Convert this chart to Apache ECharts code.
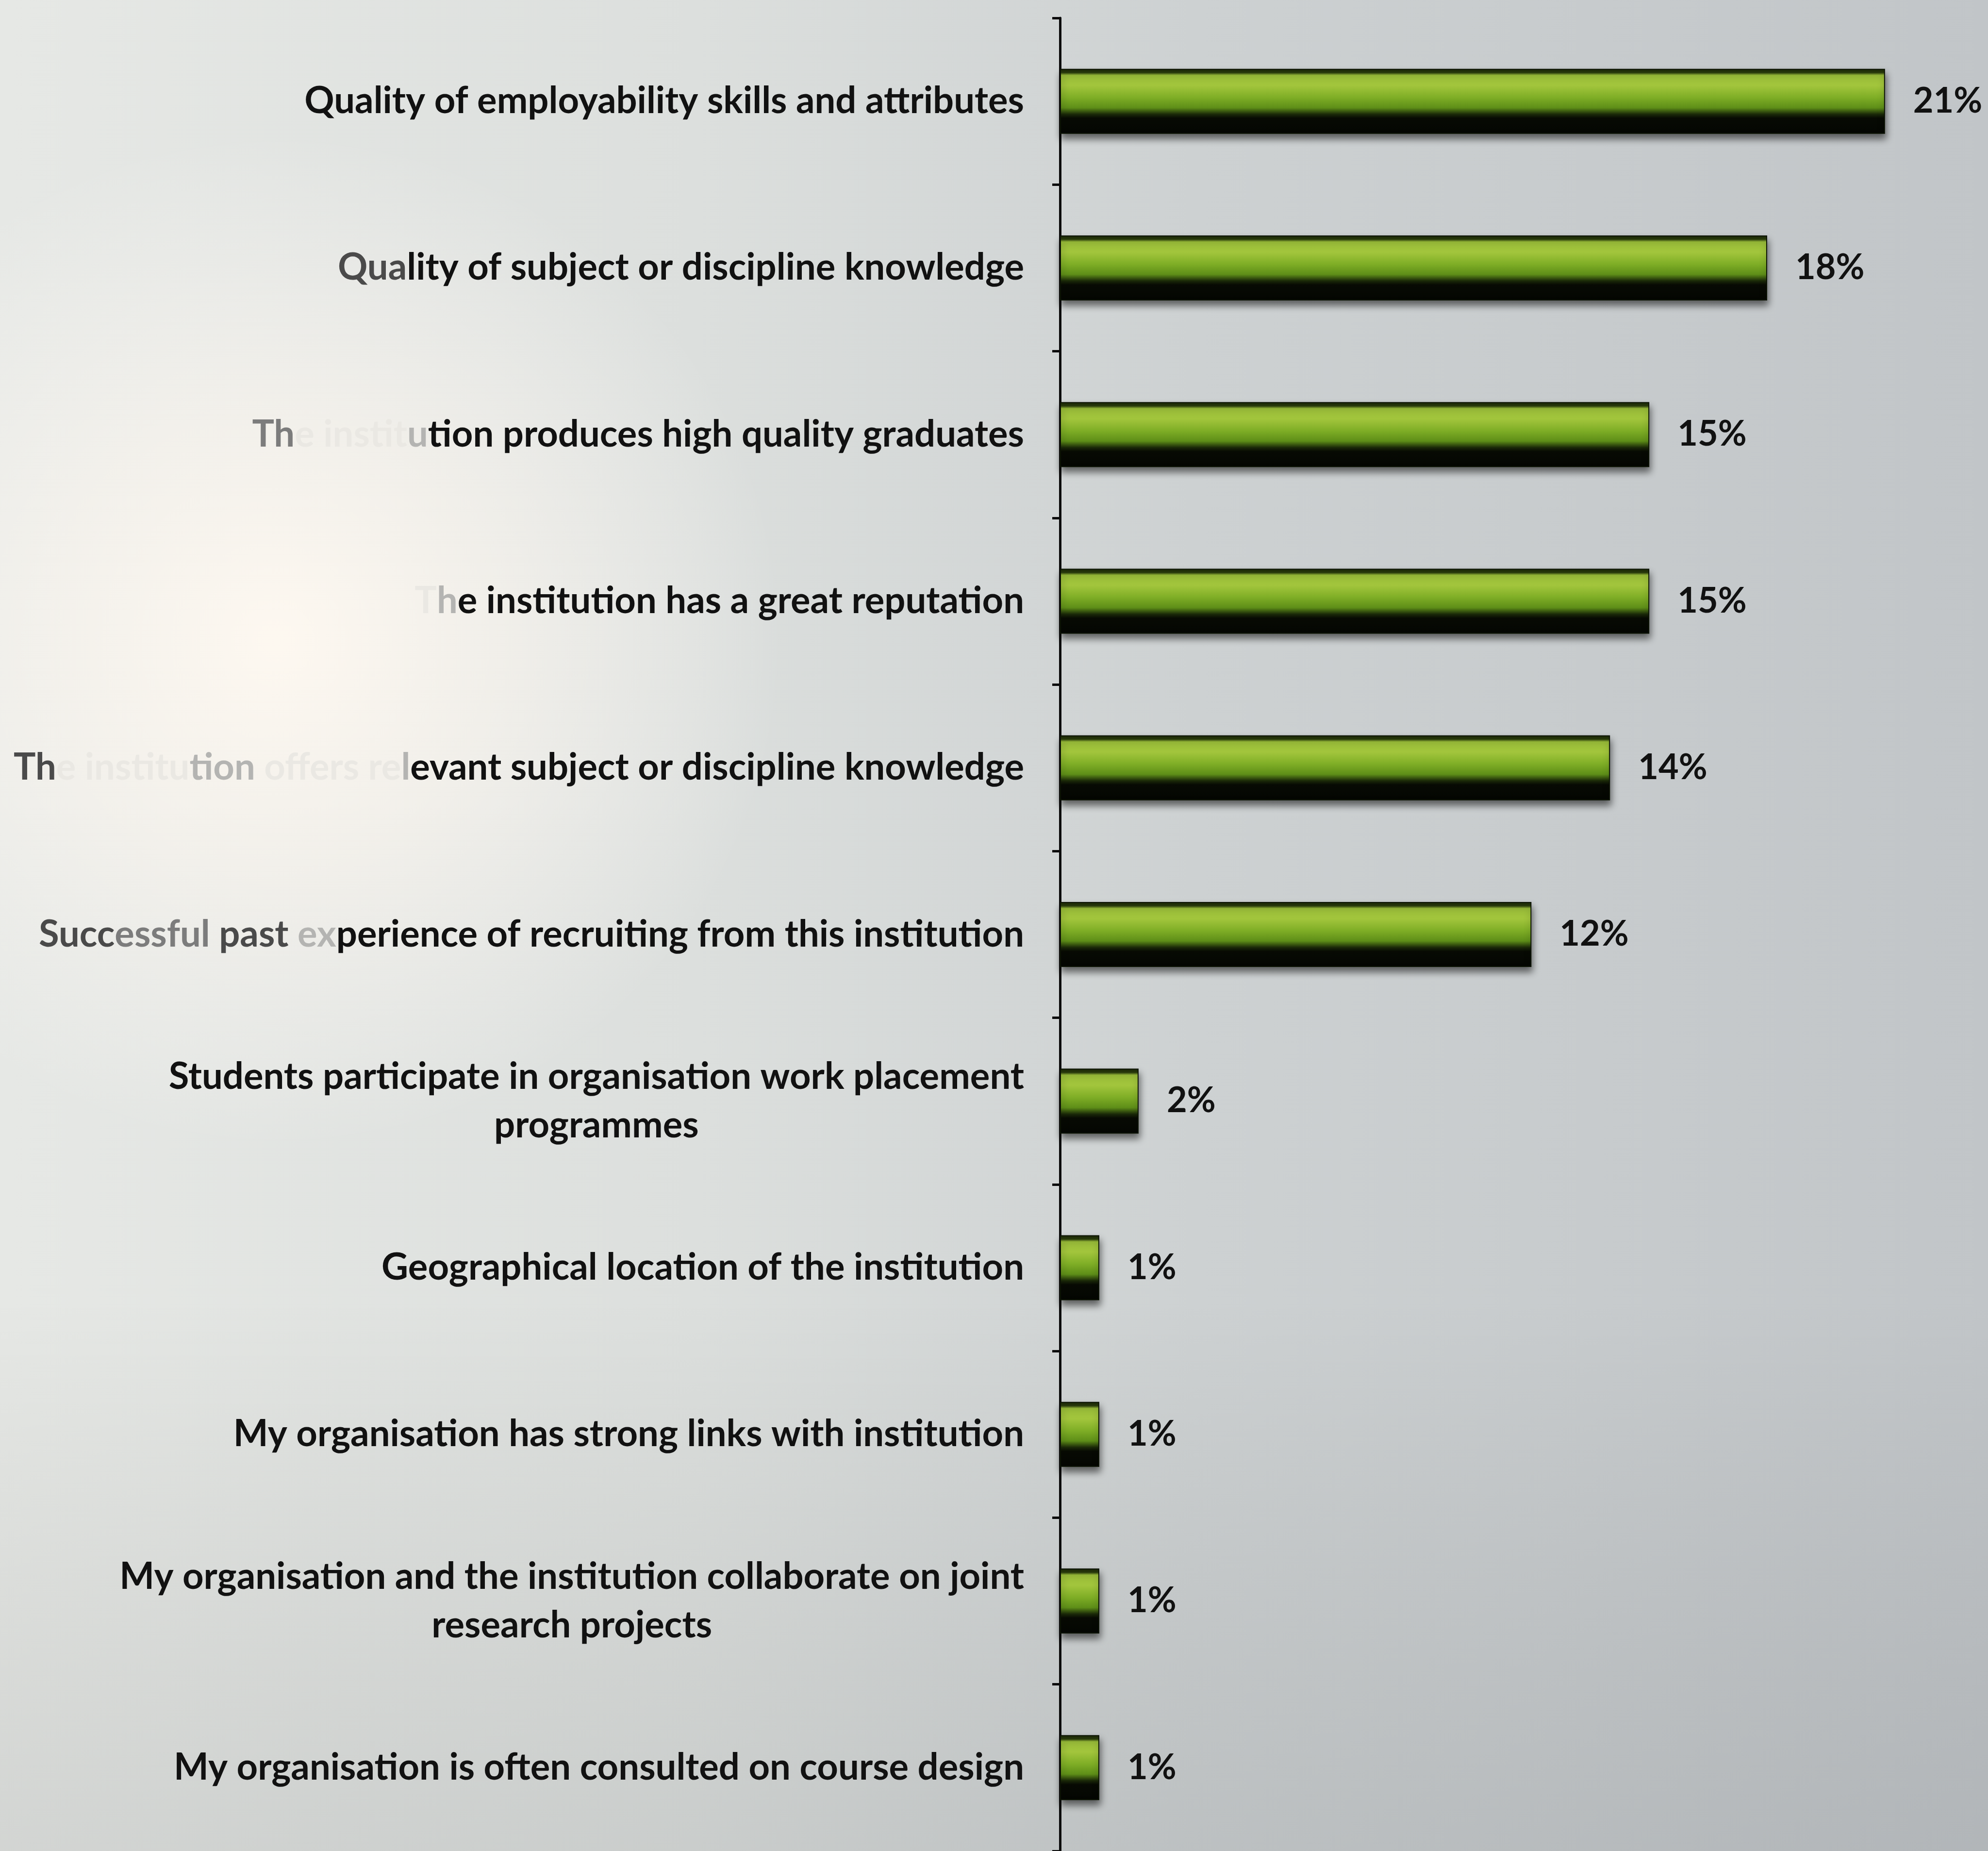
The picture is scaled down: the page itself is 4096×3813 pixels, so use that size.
<!DOCTYPE html>
<html>
<head>
<meta charset="utf-8">
<title>Reasons for recruiting graduates from an institution</title>
<script src="https://cdn.jsdelivr.net/npm/echarts@6/dist/echarts.min.js"></script>
<style>
  html, body { margin: 0; padding: 0; background: #d4d7d7; }
  #chart { width: 4096px; height: 3813px; }
</style>
</head>
<body>
<div id="chart"></div>
<script>
// Reasons given by employers, share of responses (%)
const categories = [
  'Quality of employability skills and attributes',
  'Quality of subject or discipline knowledge',
  'The institution produces high quality graduates',
  'The institution has a great reputation',
  'The institution offers relevant subject or discipline knowledge',
  'Successful past experience of recruiting from this institution',
  'Students participate in organisation work placement\nprogrammes',
  'Geographical location of the institution',
  'My organisation has strong links with institution',
  'My organisation and the institution collaborate on joint\nresearch projects',
  'My organisation is often consulted on course design'
];
const values = [21, 18, 15, 15, 14, 12, 2, 1, 1, 1, 1];

// Lighter ink for the leading words of a few labels (washed out on the left of the sheet)
const fadedLead = {
  1: [['Qua', 'g3']],
  2: [['Th', 'g2'], ['e instit', 'g0'], ['u', 'g1']],
  3: [['T', 'g0'], ['h', 'g1']],
  4: [['Th', 'g3'], ['e institu', 'g0'], ['tion', 'g1'], [' offers re', 'g0'], ['l', 'g1']],
  5: [['Succ', 'g3'], ['essful', 'g2'], [' past ', 'g3'], ['ex', 'g1']]
};

const FONT = 'Lato, "Open Sans", sans-serif';
const LABEL_SIZE = 76;
const INK = '#111111';

function tokenStyle(color, align) {
  return { color: color, fontFamily: FONT, fontSize: LABEL_SIZE, fontWeight: 'bold', lineHeight: 100, align: align };
}

const rich = {
  base: tokenStyle(INK, 'right'),
  c: tokenStyle(INK, 'center'),
  g0: tokenStyle('#eae8e3', 'right'),
  g1: tokenStyle('#b4b4b2', 'right'),
  g2: tokenStyle('#7c7c7c', 'right'),
  g3: tokenStyle('#4a4a4a', 'right')
};

function esc(s) { return s.replace(/[{}|]/g, ''); }

function formatLabel(value, index) {
  if (value.indexOf('\n') >= 0) {
    return value.split('\n').map(line => '{c|' + esc(line) + '}').join('\n');
  }
  const lead = fadedLead[index];
  if (!lead) return '{base|' + esc(value) + '}';
  let used = 0;
  let out = '';
  lead.forEach(([txt, style]) => {
    out += '{' + style + '|' + esc(txt) + '}';
    used += txt.length;
  });
  return out + '{base|' + esc(value.slice(used)) + '}';
}

const chart = echarts.init(document.getElementById('chart'), null, { renderer: 'canvas' });

const W = 4096, H = 3813;

chart.setOption({
  animation: false,
  graphic: [
    {
      type: 'rect', z: -10, silent: true,
      shape: { x: 0, y: 0, width: W, height: H },
      style: {
        fill: new echarts.graphic.LinearGradient(0, 0, 1, 0, [
          { offset: 0, color: '#e6e8e5' },
          { offset: 0.35, color: '#dcdfdd' },
          { offset: 0.6, color: '#cdd1d2' },
          { offset: 1, color: '#c1c5c8' }
        ])
      }
    },
    {
      type: 'rect', z: -9, silent: true,
      shape: { x: 0, y: 0, width: W, height: H },
      style: {
        fill: new echarts.graphic.LinearGradient(0, 0, 0, 1, [
          { offset: 0, color: 'rgba(0,0,0,0)' },
          { offset: 0.7, color: 'rgba(0,0,0,0)' },
          { offset: 1, color: 'rgba(40,45,50,0.10)' }
        ])
      }
    },
    {
      type: 'rect', z: -8, silent: true,
      shape: { x: 0, y: 0, width: 1900, height: 2400 },
      style: {
        fill: new echarts.graphic.RadialGradient(0.3, 0.55, 0.55, [
          { offset: 0, color: 'rgba(255,249,241,0.95)' },
          { offset: 0.45, color: 'rgba(252,247,240,0.6)' },
          { offset: 1, color: 'rgba(250,248,245,0)' }
        ])
      }
    }
  ],
  grid: { left: 2184, right: 26, top: 37, bottom: 0, containLabel: false },
  xAxis: {
    type: 'value', min: 0, max: 23.3, show: false
  },
  yAxis: {
    type: 'category',
    data: categories,
    inverse: true,
    axisLine: { show: true, lineStyle: { color: '#0c0c0c', width: 5 } },
    axisTick: { show: true, length: 16, lineStyle: { color: '#0c0c0c', width: 5 } },
    axisLabel: {
      margin: 74,
      align: 'right',
      formatter: formatLabel,
      rich: rich
    },
    splitLine: { show: false }
  },
  series: [{
    type: 'bar',
    data: values,
    barWidth: 134,
    itemStyle: {
      color: new echarts.graphic.LinearGradient(0, 0, 0, 1, [
        { offset: 0, color: '#1a2606' },
        { offset: 0.06, color: '#2a3c0c' },
        { offset: 0.1, color: '#9cc03a' },
        { offset: 0.26, color: '#a2c53c' },
        { offset: 0.44, color: '#7fae26' },
        { offset: 0.6, color: '#5e8e18' },
        { offset: 0.7, color: '#1a2808' },
        { offset: 0.76, color: '#070a03' },
        { offset: 1, color: '#040602' }
      ]),
      borderColor: '#0d1405',
      borderWidth: 2,
      shadowColor: 'rgba(0,0,0,0.55)',
      shadowBlur: 14,
      shadowOffsetY: 10,
      shadowOffsetX: 2
    },
    label: {
      show: true,
      position: 'right',
      distance: 58,
      formatter: '{c}%',
      color: INK,
      fontFamily: FONT,
      fontSize: 72,
      fontWeight: 'bold'
    }
  }]
});
</script>
</body>
</html>
